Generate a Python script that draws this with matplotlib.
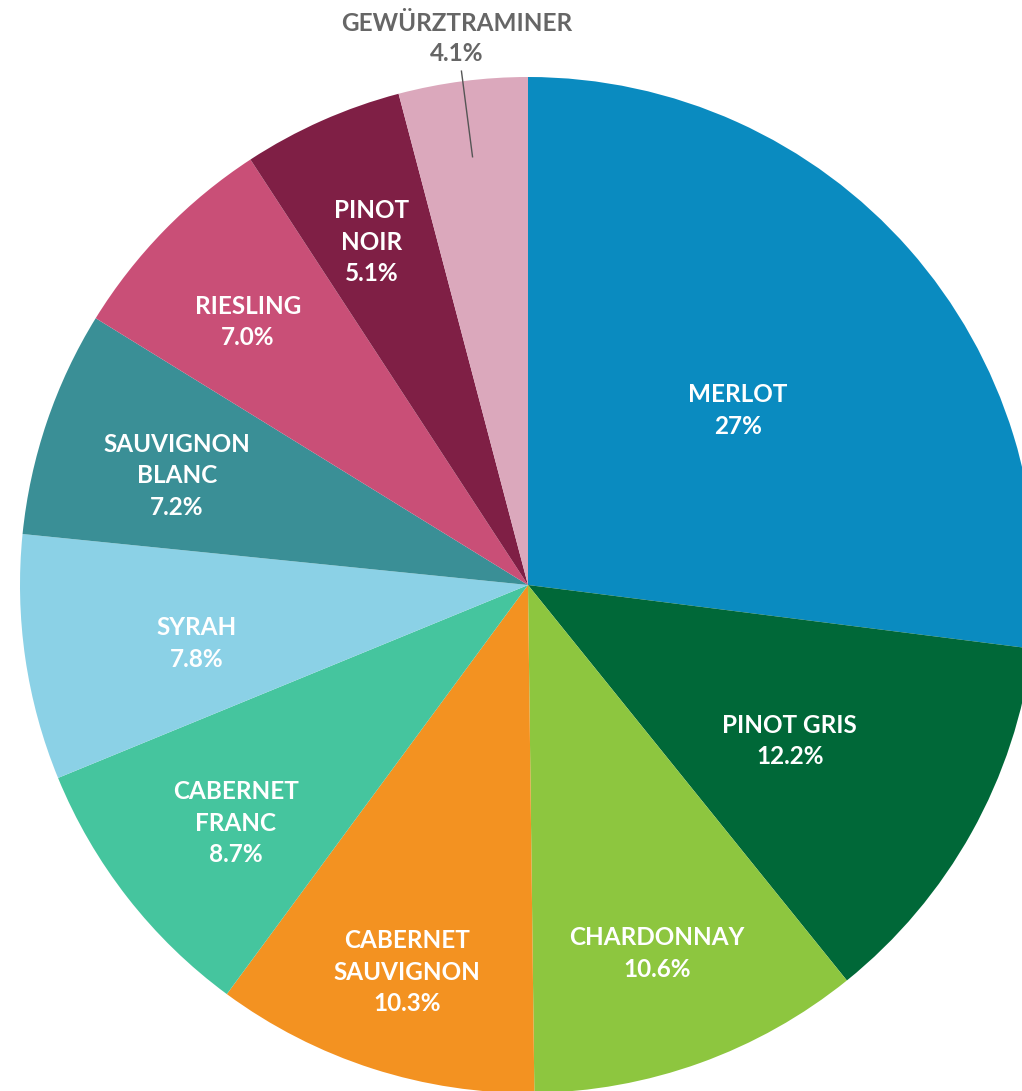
import numpy as np
import matplotlib.pyplot as plt

# wine varieties, clockwise from 12 o'clock
varieties = ['MERLOT', 'PINOT GRIS', 'CHARDONNAY', 'CABERNET\nSAUVIGNON', 'CABERNET\nFRANC',
             'SYRAH', 'SAUVIGNON\nBLANC', 'RIESLING', 'PINOT\nNOIR', 'GEWÜRZTRAMINER']
shares = [27.0, 12.2, 10.6, 10.3, 8.7, 7.8, 7.2, 7.0, 5.1, 4.1]
pct_labels = ['27%', '12.2%', '10.6%', '10.3%', '8.7%', '7.8%', '7.2%', '7.0%', '5.1%', '4.1%']
colors = ['#0A8BC0', '#006838', '#8DC63F', '#F39221', '#45C59E',
          '#8BD1E6', '#3A8F96', '#C94F77', '#7F1F45', '#DBA8BC']

# label distance (fraction of radius) per slice; last one sits outside
label_r = [0.55, 0.59, 0.75, 0.78, 0.73, 0.66, 0.73, 0.77, 0.76, None]

W, H = 1022, 1091
cx, cy, R = 528, H - 585, 508

plt.rcParams['font.family'] = ['Lato', 'DejaVu Sans']

fig = plt.figure(figsize=(W / 100, H / 100), dpi=100)
ax = fig.add_axes([0, 0, 1, 1])

wedges, _ = ax.pie(shares, colors=colors, startangle=90, counterclock=False,
                   radius=R, center=(cx, cy), frame=True)
ax.set_xlim(0, W)
ax.set_ylim(0, H)
ax.set_aspect('equal')
ax.axis('off')

for w, name, pct, lr in zip(wedges, varieties, pct_labels, label_r):
    mid = np.deg2rad((w.theta1 + w.theta2) / 2)
    if lr is not None:
        x = cx + lr * R * np.cos(mid)
        y = cy + lr * R * np.sin(mid) - 10  # nudge down a bit
        ax.text(x, y, f'{name}\n{pct}', ha='center', va='center', color='white',
                fontsize=17.5, fontweight='bold', linespacing=1.45)
    else:
        # outside label with leader line
        x0, y0 = cx + 0.85 * R * np.cos(mid), cy + 0.85 * R * np.sin(mid)
        x1, y1 = cx + 1.02 * R * np.cos(mid), cy + 1.02 * R * np.sin(mid)
        ax.plot([x0, x1], [y0, y1], color='#555555', lw=1)
        ax.text(x1 - 5, y1 + 6, f'{name}\n{pct}', ha='center', va='bottom', color='#666666',
                fontsize=17.5, fontweight='bold', linespacing=1.35)

fig.savefig('out.png', dpi=100)
